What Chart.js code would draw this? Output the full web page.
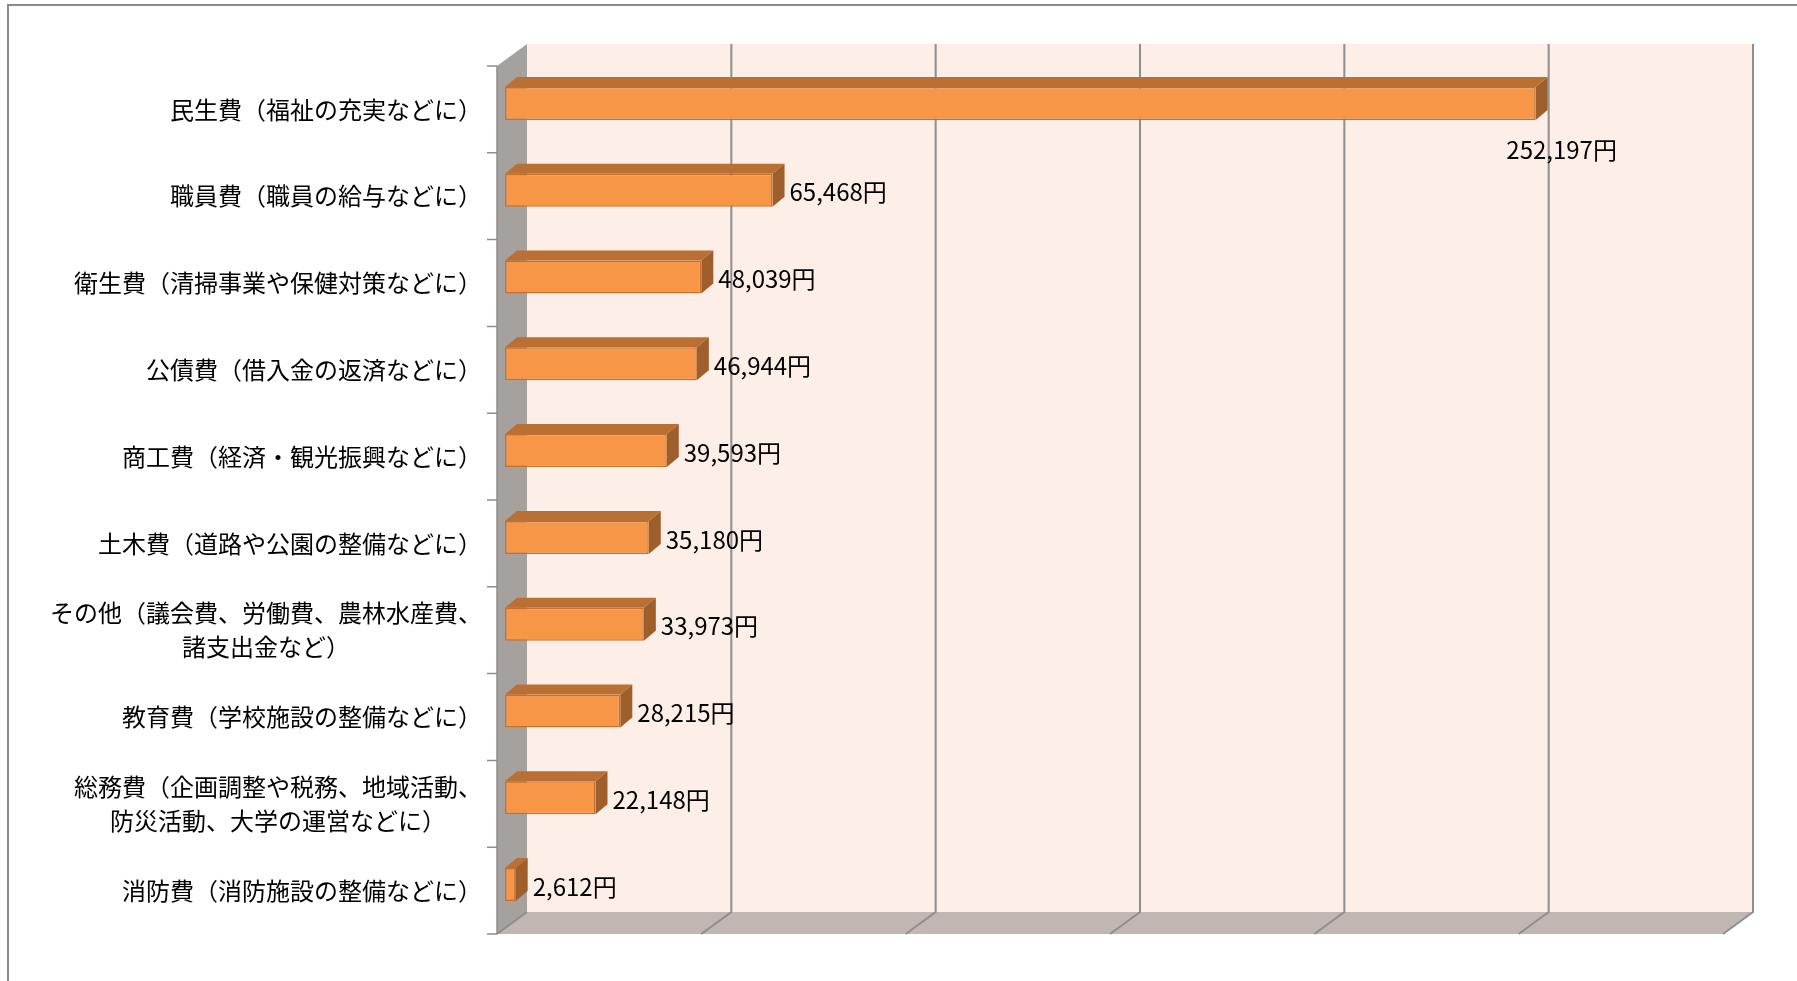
<!DOCTYPE html>
<html lang="ja">
<head>
<meta charset="utf-8">
<title>市民一人あたりの歳出</title>
<script src="https://cdn.jsdelivr.net/npm/chart.js@4.4.1/dist/chart.umd.min.js"></script>
<style>
  html, body { margin: 0; padding: 0; background: #fff; }
  #wrap { width: 1797px; height: 981px; position: relative; }
</style>
</head>
<body>
<div id="wrap"><canvas id="costChart" width="1797" height="981"></canvas></div>
<script>
// ===========================================
// DATA
// ===========================================
const categories = [
  '民生費（福祉の充実などに）',
  '職員費（職員の給与などに）',
  '衛生費（清掃事業や保健対策などに）',
  '公債費（借入金の返済などに）',
  '商工費（経済・観光振興などに）',
  '土木費（道路や公園の整備などに）',
  ['その他（議会費、労働費、農林水産費、', '諸支出金など）'],
  '教育費（学校施設の整備などに）',
  ['総務費（企画調整や税務、地域活動、', '防災活動、大学の運営などに）'],
  '消防費（消防施設の整備などに）'
];
const amounts = [252197, 65468, 48039, 46944, 39593, 35180, 33973, 28215, 22148, 2612];
const axisMin = 0;
const axisMax = 300000;
const axisStep = 50000;
const unitSuffix = '円';

// ===========================================
// 3D LOOK (Excel-style walls, floor, boxes)
// ===========================================
const FRONT = { dx: -8, dy: 6 };   // front plane relative to bar face
const BACK = { dx: 22, dy: -16 };  // back wall relative to bar face
const BAR_DEPTH = { dx: 12, dy: -10 };

const colors = {
  wall: '#fdeee7',
  sideWall: '#a7a19e',
  floor: '#c0b6b2',
  grid: '#8e8e8e',
  barFront: '#f79646',
  barTop: '#ba6f33',
  barSide: '#9f5f2c',
  barBorder: '#c4712e',
  text: '#000'
};

const labelFont = '24px "Noto Sans CJK JP", "Noto Sans", sans-serif';

function poly(ctx, pts, fill) {
  ctx.beginPath();
  ctx.moveTo(pts[0][0], pts[0][1]);
  for (let i = 1; i < pts.length; i++) ctx.lineTo(pts[i][0], pts[i][1]);
  ctx.closePath();
  ctx.fillStyle = fill;
  ctx.fill();
}

const wallsPlugin = {
  id: 'walls',
  beforeDatasetsDraw(chart) {
    const ctx = chart.ctx;
    const a = chart.chartArea;
    const xs = chart.scales.x;
    const fl = a.left + FRONT.dx, ft = a.top + FRONT.dy, fb = a.bottom + FRONT.dy;
    const fr = a.right + FRONT.dx;
    const bl = a.left + BACK.dx, bt = a.top + BACK.dy, bb = a.bottom + BACK.dy;
    const br = a.right + BACK.dx;

    ctx.save();
    // back wall
    poly(ctx, [[bl, bt], [br, bt], [br, bb], [bl, bb]], colors.wall);
    // left wall
    poly(ctx, [[fl, ft], [bl, bt], [bl, bb], [fl, fb]], colors.sideWall);
    // floor
    poly(ctx, [[fl, fb], [bl, bb], [br, bb], [fr, fb]], colors.floor);

    // gridlines on back wall + floor
    ctx.strokeStyle = colors.grid;
    ctx.lineWidth = 2;
    for (let v = axisMin + axisStep; v <= axisMax; v += axisStep) {
      const px = xs.getPixelForValue(v);
      ctx.beginPath();
      ctx.moveTo(px + BACK.dx, bt);
      ctx.lineTo(px + BACK.dx, bb);
      ctx.lineTo(px + FRONT.dx, fb);
      ctx.stroke();
    }
    // left edge of floor / wall
    ctx.beginPath();
    ctx.moveTo(fl, fb);
    ctx.lineTo(bl, bb);
    ctx.stroke();

    // category axis line and ticks
    const ys = chart.scales.y;
    ctx.lineWidth = 1.5;
    ctx.beginPath();
    ctx.moveTo(fl, ft);
    ctx.lineTo(fl, fb);
    const step = (a.bottom - a.top) / categories.length;
    for (let i = 0; i <= categories.length; i++) {
      const ty = a.top + FRONT.dy + i * step;
      ctx.moveTo(fl - 10, ty);
      ctx.lineTo(fl, ty);
    }
    ctx.stroke();

    // category labels (block right aligned, lines centred to each other)
    ctx.font = labelFont;
    ctx.fillStyle = colors.text;
    ctx.textBaseline = 'middle';
    ctx.textAlign = 'center';
    const rightX = fl - 15;
    categories.forEach((label, i) => {
      const lines = Array.isArray(label) ? label : [label];
      const cy = ys.getPixelForValue(i) + FRONT.dy;
      const maxW = Math.max(...lines.map(l => ctx.measureText(l).width));
      const lh = 34;
      lines.forEach((line, j) => {
        const ly = cy + (j - (lines.length - 1) / 2) * lh;
        ctx.fillText(line, rightX - maxW / 2, ly);
      });
    });

    // outer chart frame
    ctx.strokeStyle = '#8a8a8a';
    ctx.lineWidth = 2;
    ctx.beginPath();
    ctx.moveTo(8, chart.height);
    ctx.lineTo(8, 5);
    ctx.lineTo(chart.width, 5);
    ctx.stroke();
    ctx.restore();

    // bar top and side faces
    const meta = chart.getDatasetMeta(0);
    ctx.save();
    meta.data.forEach(el => {
      const p = el.getProps(['x', 'y', 'base', 'height'], true);
      const top = p.y - p.height / 2;
      const bot = p.y + p.height / 2;
      const d = BAR_DEPTH;
      poly(ctx, [[p.base, top], [p.x, top], [p.x + d.dx, top + d.dy], [p.base + d.dx, top + d.dy]], colors.barTop);
      poly(ctx, [[p.x, top], [p.x + d.dx, top + d.dy], [p.x + d.dx, bot + d.dy], [p.x, bot]], colors.barSide);
    });
    ctx.restore();
  },
  afterDatasetsDraw(chart) {
    const ctx = chart.ctx;
    const meta = chart.getDatasetMeta(0);
    ctx.save();
    ctx.font = labelFont;
    ctx.fillStyle = colors.text;
    ctx.textBaseline = 'middle';
    meta.data.forEach((el, i) => {
      const p = el.getProps(['x', 'y', 'height'], true);
      const txt = amounts[i].toLocaleString('en-US') + unitSuffix;
      if (amounts[i] > axisMax * 0.8) {
        // long bar: label sits under the end of the bar
        ctx.textAlign = 'center';
        ctx.fillText(txt, p.x + 26, p.y + 46);
      } else {
        ctx.textAlign = 'left';
        ctx.fillText(txt, p.x + 17, p.y + 2);
      }
    });
    ctx.restore();
  }
};

// ===========================================
// CHART
// ===========================================
const ctx = document.getElementById('costChart');
new Chart(ctx, {
  type: 'bar',
  data: {
    labels: categories,
    datasets: [{
      data: amounts,
      backgroundColor: colors.barFront,
      borderColor: colors.barBorder,
      borderWidth: 1.5,
      borderSkipped: false,
      categoryPercentage: 1,
      barPercentage: 0.38
    }]
  },
  options: {
    indexAxis: 'y',
    responsive: false,
    animation: false,
    layout: {
      padding: { left: 505, right: 66, top: 60, bottom: 53 }
    },
    plugins: {
      legend: { display: false },
      tooltip: { enabled: false }
    },
    scales: {
      x: {
        display: false,
        min: axisMin,
        max: axisMax,
        ticks: { stepSize: axisStep }
      },
      y: {
        display: false
      }
    }
  },
  plugins: [wallsPlugin]
});
</script>
</body>
</html>
